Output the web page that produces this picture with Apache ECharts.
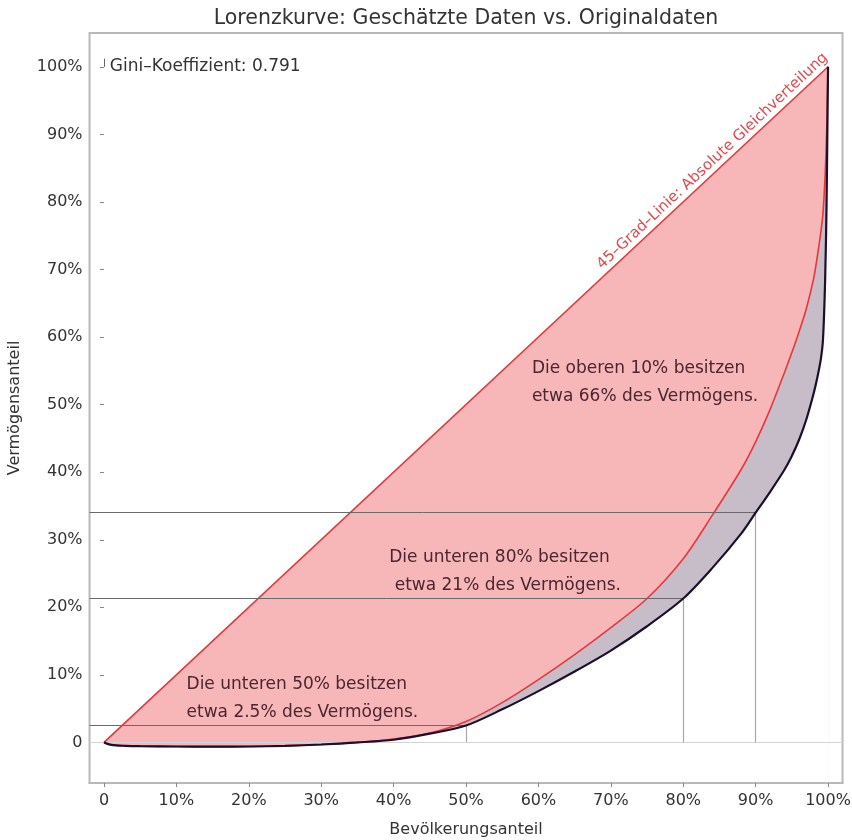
<!DOCTYPE html>
<html>
<head>
<meta charset="utf-8">
<script src="https://cdn.jsdelivr.net/npm/echarts@6/dist/echarts.min.js"></script>
<style>
html,body{margin:0;padding:0;background:#fff;}
#chart{width:852px;height:840px;}
</style>
</head>
<body>
<div id="chart"></div>
<script>
// ---- data ----
const tickValues = [0, 10, 20, 30, 40, 50, 60, 70, 80, 90, 100];

const equalityShare  = [0, 100];
const equalityWealth = [0, 100];

// population share at which both Lorenz curves were read
const populationShare = [0, 1, 3, 5, 10, 15, 20, 25, 30, 35, 40, 45, 50, 55, 60, 65, 70, 75, 80, 84, 88, 90, 92, 94, 95, 96, 97, 98, 98.5, 99, 99.3, 99.6, 99.8, 99.9, 100];

// estimated Lorenz curve (red)
const estimatedWealth = [0, -0.35, -0.5, -0.55, -0.6, -0.62, -0.6, -0.5, -0.3, 0.0, 0.5, 1.4, 3.1, 5.9, 9.3, 13.0, 17.0, 21.3, 27.2, 33.6, 40.4, 44.5, 49.3, 54.8, 57.7, 60.8, 64.2, 68.6, 71.8, 75.5, 78.3, 84.0, 90.0, 94.5, 100];

// original Lorenz curve (dark)
const originalWealth  = [0, -0.35, -0.5, -0.55, -0.6, -0.62, -0.6, -0.5, -0.3, 0.0, 0.4, 1.3, 2.5, 4.9, 7.6, 10.5, 13.6, 17.2, 21.3, 25.8, 30.9, 34.0, 37.1, 40.4, 42.4, 44.8, 47.8, 51.6, 53.9, 56.7, 59.6, 68.5, 80.0, 90.0, 100];

// reference markers: population share -> wealth share
const refShare  = [50, 80, 90];
const refWealth = [2.5, 21.3, 34];

const giniText = 'Gini\u2013Koeffizient: 0.791';
const equalityLabel = '45\u2013Grad\u2013Linie: Absolute Gleichverteilung';
const noteTop    = 'Die oberen 10% besitzen\netwa 66% des Verm\u00f6gens.';
const noteMiddle = 'Die unteren 80% besitzen\n etwa 21% des Verm\u00f6gens.';
const noteBottom = 'Die unteren 50% besitzen\netwa 2.5% des Verm\u00f6gens.';

// ---- helpers ----
const pairs = (xs, ys) => xs.map((x, i) => [x, ys[i]]);
const FONT = 'DejaVu Sans';
const SMOOTH = 0.3;

const refLines = [];
refShare.forEach((s, i) => {
  refLines.push([{ coord: [-2, refWealth[i]], lineStyle: { color: '#6a6a6a', width: 1, type: 'solid' } },
                 { coord: [s, refWealth[i]] }]);
  refLines.push([{ coord: [s, 0], lineStyle: { color: '#a8a8a8', width: 1.2, type: 'solid' } },
                 { coord: [s, refWealth[i]] }]);
});
refLines.push([{ coord: [-2, 0], lineStyle: { color: '#d4d4d4', width: 1.2, type: 'solid' } }, { coord: [102, 0] }]);
refLines.push([{ coord: [0, 100], lineStyle: { color: '#666', width: 1, type: 'solid' } }, { coord: [0, 101.2] }]);

const noteStyle = { color: '#4a2630', fontFamily: FONT, fontSize: 17, lineHeight: 28 };

const option = {
  animation: false,
  backgroundColor: '#fff',
  title: {
    text: 'Lorenzkurve: Gesch\u00e4tzte Daten vs. Originaldaten',
    left: 461, top: 3, textAlign: 'center',
    textStyle: { fontFamily: FONT, fontSize: 20.5, fontWeight: 'normal', color: '#333' }
  },
  grid: {
    left: 89.52, right: 9.48, top: 33, bottom: 57, outerBoundsMode: 'none', containLabel: false,
    show: true, borderColor: '#b9b9b9', borderWidth: 2, backgroundColor: 'transparent'
  },
  xAxis: {
    type: 'value', min: -2, max: 102, z: 8,
    name: 'Bev\u00f6lkerungsanteil', nameLocation: 'middle', nameGap: 39,
    nameTextStyle: { fontFamily: FONT, fontSize: 16, color: '#333' },
    axisLine: { show: true, onZero: false, lineStyle: { color: '#b9b9b9', width: 2 } },
    splitLine: { show: false },
    axisTick: { show: true, inside: false, length: 4, customValues: tickValues, lineStyle: { color: '#888' } },
    axisLabel: { customValues: tickValues, margin: 10, fontFamily: FONT, fontSize: 16, color: '#333',
      formatter: v => v === 0 ? '0' : v + '%' }
  },
  yAxis: {
    type: 'value', min: -6, max: 105,
    name: 'Verm\u00f6gensanteil', nameLocation: 'middle', nameGap: 67, nameRotate: 90,
    nameTextStyle: { fontFamily: FONT, fontSize: 16, color: '#333' },
    axisLine: { show: false },
    splitLine: { show: false },
    axisTick: { show: true, inside: false, length: 4, customValues: tickValues, lineStyle: { color: '#888' } },
    axisLabel: { customValues: tickValues, margin: 7, fontFamily: FONT, fontSize: 16, color: '#333',
      formatter: v => v === 0 ? '0' : v + '%' }
  },
  series: [
    // layered fills: each curve filled down to the axis start, painted in order
    {
      name: 'fillEquality', type: 'line', z: 1, silent: true, showSymbol: false,
      data: pairs(equalityShare, equalityWealth),
      lineStyle: { width: 0, opacity: 0 }, areaStyle: { color: '#f7b6b8', opacity: 1, origin: 'start' }
    },
    {
      name: 'fillEstimated', type: 'line', z: 1, silent: true, showSymbol: false, smooth: SMOOTH,
      data: pairs(populationShare, estimatedWealth),
      lineStyle: { width: 0, opacity: 0 }, areaStyle: { color: '#c6bdc8', opacity: 1, origin: 'start' }
    },
    {
      name: 'fillOriginal', type: 'line', z: 1, silent: true, showSymbol: false, smooth: SMOOTH,
      data: pairs(populationShare, originalWealth),
      lineStyle: { width: 0, opacity: 0 }, areaStyle: { color: '#ffffff', opacity: 1, origin: 'start' }
    },
    {
      name: 'refs', type: 'line', data: [], z: 2,
      markLine: { silent: true, symbol: 'none', label: { show: false }, data: refLines }
    },
    {
      name: 'Gleichverteilung', type: 'line', z: 3,
      data: pairs(equalityShare, equalityWealth),
      showSymbol: false, lineStyle: { color: '#e2393c', width: 1.6 }
    },
    {
      name: 'Gesch\u00e4tzt', type: 'line', z: 4, smooth: SMOOTH,
      data: pairs(populationShare, estimatedWealth),
      showSymbol: false, lineStyle: { color: '#e5383a', width: 1.6 }
    },
    {
      name: 'Original', type: 'line', z: 5, smooth: SMOOTH,
      data: pairs(populationShare, originalWealth),
      showSymbol: false, lineStyle: { color: '#1b0f2c', width: 2.2 }
    },
    {
      name: 'notes', type: 'scatter', data: [], z: 6, silent: true,
      markPoint: {
        symbol: 'circle', symbolSize: 0, silent: true,
        data: [
          { coord: [0.8, 100.1], label: { show: true, position: 'inside', align: 'left', verticalAlign: 'middle',
              formatter: giniText, color: '#333', fontFamily: FONT, fontSize: 17 } },
          { coord: [84.05, 86.05], label: { show: true, position: 'inside', align: 'center', verticalAlign: 'middle',
              rotate: 43, formatter: equalityLabel, color: '#e0484c', fontFamily: FONT, fontSize: 15 } },
          { coord: [59.1, 53.3], label: Object.assign({ show: true, position: 'inside', align: 'left', verticalAlign: 'middle',
              formatter: noteTop }, noteStyle) },
          { coord: [39.4, 25.35], label: Object.assign({ show: true, position: 'inside', align: 'left', verticalAlign: 'middle',
              formatter: noteMiddle }, noteStyle) },
          { coord: [11.4, 6.45], label: Object.assign({ show: true, position: 'inside', align: 'left', verticalAlign: 'middle',
              formatter: noteBottom }, noteStyle) }
        ]
      }
    }
  ]
};

const chart = echarts.init(document.getElementById('chart'), null, { renderer: 'canvas' });
chart.setOption(option);
</script>
</body>
</html>
